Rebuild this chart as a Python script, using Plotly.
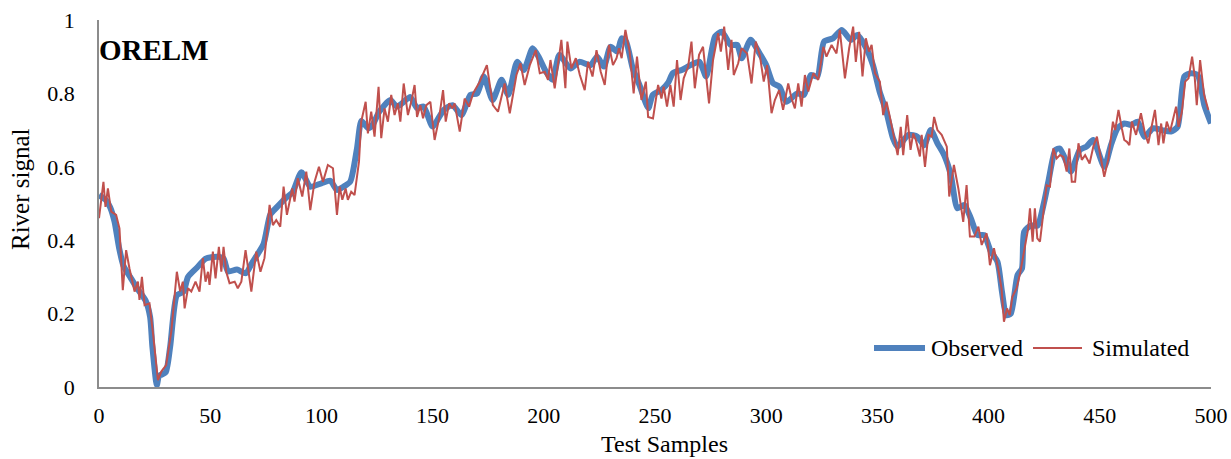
import plotly.graph_objects as go

# ---------------- data ----------------
obs_x = [0, 3, 5, 7, 9, 11, 14, 17, 21, 23, 24, 26, 27, 30, 32, 35, 38, 40, 44, 48,
         53, 56, 58, 62, 66, 69, 74, 77, 80, 84, 87, 91, 95, 100, 104, 107, 110, 113, 116, 118,
         121, 123, 126, 131, 134, 140, 143, 146, 150, 155, 159, 163, 167, 170, 173, 177, 181, 184, 188, 191,
         195, 198, 201, 204, 207, 212, 216, 221, 224, 227, 230, 233, 235, 237, 240, 243, 247, 249, 253, 256,
         258, 262, 266, 270, 273, 277, 280, 284, 287, 289, 293, 297, 300, 303, 306, 309, 314, 317, 320, 323,
         326, 330, 334, 338, 341, 345, 348, 351, 354, 357, 359, 364, 368, 371, 374, 377, 380, 383, 386, 389,
         392, 395, 398, 401, 404, 406, 408, 410, 413, 415, 416, 419, 422, 425, 427, 430, 432, 435, 437, 441,
         444, 447, 452, 455, 458, 461, 464, 467, 470, 474, 478, 482, 485, 488, 491, 494, 497, 500]
obs_y = [0.523, 0.51, 0.49, 0.45, 0.38, 0.33, 0.30, 0.27, 0.235, 0.19, 0.11, 0.005, 0.03, 0.04, 0.11, 0.25, 0.26, 0.30, 0.325, 0.35,
         0.355, 0.35, 0.315, 0.32, 0.31, 0.34, 0.39, 0.47, 0.49, 0.515, 0.53, 0.585, 0.546, 0.555, 0.562, 0.537, 0.546, 0.56, 0.65, 0.725,
         0.705, 0.714, 0.75, 0.782, 0.764, 0.79, 0.76, 0.764, 0.71, 0.755, 0.768, 0.741, 0.796, 0.80, 0.846, 0.782, 0.837, 0.796, 0.886, 0.864,
         0.923, 0.896, 0.859, 0.837, 0.905, 0.868, 0.886, 0.877, 0.90, 0.873, 0.927, 0.914, 0.95, 0.941, 0.868, 0.823, 0.76, 0.796, 0.81, 0.83,
         0.855, 0.864, 0.877, 0.886, 0.846, 0.955, 0.968, 0.932, 0.932, 0.896, 0.946, 0.909, 0.877, 0.828, 0.818, 0.777, 0.80, 0.796, 0.85, 0.846,
         0.941, 0.95, 0.973, 0.946, 0.959, 0.923, 0.877, 0.805, 0.75, 0.678, 0.655, 0.687, 0.682, 0.659, 0.70, 0.664, 0.632, 0.578, 0.487, 0.496,
         0.46, 0.414, 0.414, 0.369, 0.341, 0.26, 0.196, 0.20, 0.305, 0.323, 0.423, 0.44, 0.44, 0.505, 0.564, 0.646, 0.65, 0.614, 0.587, 0.646,
         0.655, 0.673, 0.60, 0.659, 0.705, 0.718, 0.714, 0.723, 0.682, 0.705, 0.70, 0.696, 0.709, 0.846, 0.855, 0.85, 0.768, 0.718]

sim_x = [0, 2, 2.9, 4, 5.5, 7.7, 9.2, 10.7, 12.2, 13.7, 16, 17.5, 18.2, 19.3, 20.5, 22.7, 24.2, 26.5, 28, 30.2,
         32.5, 35, 36.5, 37.7, 38.5, 40, 41.5, 43.4, 45.2, 46.7, 47.9, 49, 49.7, 51.2, 52.4, 53.9, 55, 56, 57.2, 58.7,
         61, 62.4, 64, 65.9, 68.5, 70.7, 72.6, 74.4, 76.7, 78.2, 79.7, 81.5, 83, 84.5, 86.9, 87.9, 89.4, 91.4, 93.2, 95,
         96.9, 98.9, 100.7, 102.9, 105.2, 107, 108.2, 109.4, 110.9, 111.9, 113.4, 114.9, 116.9, 117.9, 119.9, 120.9, 122.4, 123.9, 125.7, 126.9,
         128.4, 129.9, 131.4, 132.9, 134.4, 135.5, 137, 138.9, 140.4, 141.9, 143, 144.5, 145.7, 147.2, 149, 150.9, 152.9, 154.7, 155.9, 157.4,
         158.9, 159.9, 162.2, 164.4, 166.4, 168.2, 171.2, 174.4, 177.1, 179.4, 182.4, 184.7, 187.7, 189.5, 191.4, 193.7, 196.4, 198.2, 200.4, 201.9,
         203, 204.9, 207.9, 209.7, 210.6, 212.4, 214.4, 216.2, 218.4, 219.9, 221.9, 223.7, 225.6, 227.4, 229.3, 231.1, 232.7, 233.8, 235, 236.7,
         238.6, 240.4, 241.9, 243.9, 245.9, 246.9, 249.1, 251.4, 252.9, 253.9, 255.4, 256.9, 258.4, 259.9, 261.5, 262.9, 264.9, 266.4, 267.9, 269.8,
         271.6, 274.3, 276.1, 278.4, 279.6, 281.1, 282.9, 284.4, 285.4, 287.4, 288.9, 291.4, 293.4, 295.3, 297.1, 298.9, 300.4, 302.4, 303.9, 305.8,
         307.6, 309.9, 311.4, 312.9, 314.4, 315.9, 317.4, 318.9, 321.2, 323.4, 325.7, 327.1, 329.4, 331.6, 333.1, 335.4, 337.3, 339.1, 340.3, 341.8,
         343.3, 344.8, 346.2, 347.4, 348.9, 351.1, 352.6, 354.1, 355.6, 357.9, 359.1, 360.5, 361.6, 363.4, 364.9, 366.1, 367.3, 369.1, 369.9, 371.4,
         372.9, 374.4, 375.5, 377, 378.9, 381.2, 382.3, 384.4, 386.4, 388.6, 390.1, 391.6, 393.6, 395.4, 396.9, 399.1, 400.6, 402.4, 404.3, 405.8,
         406.9, 408.3, 409.5, 410.7, 412.6, 414.3, 416.3, 417.8, 418.6, 419.8, 420.8, 421.9, 423.1, 424.6, 426.1, 427.6, 429.1, 430.6, 432.1, 433.6,
         435.1, 436.3, 437.4, 438.9, 440.4, 441.9, 443.4, 445.4, 447.1, 448.7, 450.2, 452, 453.9, 455.9, 456.9, 458.4, 459.9, 461, 462.2, 463.3,
         464.4, 466.3, 468.5, 470.3, 471.8, 473.3, 474.8, 476.4, 477.6, 478.6, 480.1, 481.6, 483.1, 484.3, 485.4, 486.9, 488.4, 489.9, 491.5, 492.6,
         493.6, 495.1, 496.9, 498.8]
sim_y = [0.46, 0.559, 0.491, 0.541, 0.478, 0.469, 0.432, 0.264, 0.373, 0.323, 0.26, 0.287, 0.237, 0.30, 0.223, 0.228, 0.151, 0.019, 0.042, 0.06,
         0.151, 0.314, 0.26, 0.287, 0.214, 0.269, 0.26, 0.287, 0.26, 0.351, 0.287, 0.314, 0.278, 0.369, 0.296, 0.382, 0.314, 0.382, 0.314, 0.283,
         0.287, 0.269, 0.287, 0.373, 0.26, 0.369, 0.314, 0.351, 0.496, 0.441, 0.455, 0.437, 0.546, 0.469, 0.541, 0.505, 0.569, 0.519, 0.587, 0.482,
         0.559, 0.60, 0.559, 0.605, 0.596, 0.469, 0.546, 0.51, 0.541, 0.51, 0.532, 0.523, 0.614, 0.723, 0.777, 0.691, 0.75, 0.682, 0.818, 0.678,
         0.759, 0.723, 0.796, 0.741, 0.773, 0.723, 0.827, 0.741, 0.777, 0.823, 0.736, 0.768, 0.732, 0.768, 0.777, 0.673, 0.732, 0.809, 0.723, 0.773,
         0.759, 0.773, 0.696, 0.786, 0.764, 0.80, 0.832, 0.877, 0.768, 0.75, 0.827, 0.746, 0.85, 0.882, 0.823, 0.877, 0.918, 0.855, 0.859, 0.837,
         0.891, 0.814, 0.946, 0.814, 0.941, 0.868, 0.896, 0.85, 0.809, 0.886, 0.846, 0.918, 0.859, 0.823, 0.932, 0.877, 0.896, 0.923, 0.896, 0.973,
         0.914, 0.80, 0.90, 0.782, 0.832, 0.736, 0.732, 0.823, 0.786, 0.818, 0.764, 0.823, 0.764, 0.891, 0.782, 0.841, 0.873, 0.941, 0.814, 0.905,
         0.927, 0.773, 0.891, 0.964, 0.914, 0.982, 0.864, 0.946, 0.85, 0.882, 0.923, 0.909, 0.827, 0.941, 0.905, 0.832, 0.877, 0.746, 0.782, 0.809,
         0.755, 0.827, 0.786, 0.759, 0.827, 0.764, 0.85, 0.805, 0.855, 0.837, 0.927, 0.90, 0.932, 0.909, 0.973, 0.841, 0.923, 0.982, 0.886, 0.968,
         0.846, 0.95, 0.914, 0.932, 0.855, 0.832, 0.741, 0.777, 0.736, 0.664, 0.632, 0.709, 0.632, 0.741, 0.646, 0.691, 0.673, 0.628, 0.687, 0.60,
         0.687, 0.682, 0.736, 0.70, 0.687, 0.655, 0.519, 0.605, 0.541, 0.45, 0.55, 0.41, 0.41, 0.437, 0.387, 0.419, 0.332, 0.378, 0.323, 0.269,
         0.178, 0.214, 0.196, 0.246, 0.269, 0.314, 0.387, 0.432, 0.487, 0.396, 0.487, 0.405, 0.396, 0.469, 0.55, 0.546, 0.65, 0.623, 0.632, 0.627,
         0.587, 0.65, 0.559, 0.559, 0.664, 0.619, 0.632, 0.609, 0.655, 0.682, 0.632, 0.573, 0.623, 0.723, 0.70, 0.755, 0.705, 0.673, 0.668, 0.659,
         0.723, 0.687, 0.746, 0.691, 0.664, 0.714, 0.755, 0.659, 0.718, 0.664, 0.723, 0.696, 0.732, 0.764, 0.709, 0.75, 0.832, 0.841, 0.90, 0.85,
         0.768, 0.891, 0.796, 0.755]

x_ticks = [0, 50, 100, 150, 200, 250, 300, 350, 400, 450, 500]
y_ticks = [0, 0.2, 0.4, 0.6, 0.8, 1]
y_tick_text = ["0", "0.2", "0.4", "0.6", "0.8", "1"]

BLUE = "#4F81BD"
RED = "#C0504D"
FONT = "Liberation Serif"

fig = go.Figure()
fig.add_trace(go.Scatter(x=obs_x, y=obs_y, mode="lines", name="Observed",
                         line=dict(color=BLUE, width=6, shape="spline", smoothing=0.6)))
fig.add_trace(go.Scatter(x=sim_x, y=sim_y, mode="lines", name="Simulated",
                         line=dict(color=RED, width=2)))

W, H = 1231, 459
L, R, T, B = 99, 20, 20, 72
pw, ph = W - L - R, H - T - B


def px(xp):
    return (xp - L) / pw


def py(yp):
    return (H - B - yp) / ph


fig.update_layout(
    template="none",
    width=W, height=H,
    margin=dict(l=L, r=R, t=T, b=B, pad=0, autoexpand=False),
    paper_bgcolor="white", plot_bgcolor="white",
    showlegend=False,
    font=dict(family=FONT, color="black", size=22),
    xaxis=dict(range=[0, 500], tickvals=x_ticks, showgrid=False, zeroline=False,
               automargin=False,
               showline=True, linecolor="#8C8C8C", linewidth=1.5, ticks="",
               ticklabelstandoff=8, tickfont=dict(family=FONT, size=22, color="black")),
    yaxis=dict(range=[0, 1], tickvals=y_ticks, ticktext=y_tick_text, showgrid=False,
               automargin=False,
               zeroline=False, showline=True, linecolor="#8C8C8C", linewidth=1.5, ticks="",
               ticklabelstandoff=18, tickfont=dict(family=FONT, size=22, color="black")),
)

annotations = [
    dict(text="<b>ORELM</b>", x=0, y=py(50), xref="paper", yref="paper", xanchor="left",
         yanchor="middle", showarrow=False, xshift=-2, font=dict(family=FONT, size=29, color="black")),
    dict(text="Test Samples", x=px(664.5), y=py(444), xref="paper", yref="paper",
         xanchor="center", yanchor="middle", showarrow=False,
         font=dict(family=FONT, size=24, color="black")),
    dict(text="River signal", x=px(20), y=py(189), xref="paper", yref="paper",
         xanchor="center", yanchor="middle", textangle=-90, showarrow=False,
         font=dict(family=FONT, size=25, color="black")),
    dict(text="Observed", x=px(929), y=py(348), xref="paper", yref="paper",
         xanchor="left", yanchor="middle", showarrow=False,
         font=dict(family=FONT, size=24, color="black")),
    dict(text="Simulated", x=px(1090), y=py(348), xref="paper", yref="paper",
         xanchor="left", yanchor="middle", showarrow=False,
         font=dict(family=FONT, size=24, color="black")),
]
shapes = [
    dict(type="line", xref="paper", yref="paper", x0=px(874), x1=px(925), y0=py(348), y1=py(348),
         line=dict(color=BLUE, width=6)),
    dict(type="line", xref="paper", yref="paper", x0=px(1033), x1=px(1082), y0=py(348), y1=py(348),
         line=dict(color=RED, width=2)),
]
fig.update_layout(annotations=annotations, shapes=shapes)

fig.write_html("out.html")
